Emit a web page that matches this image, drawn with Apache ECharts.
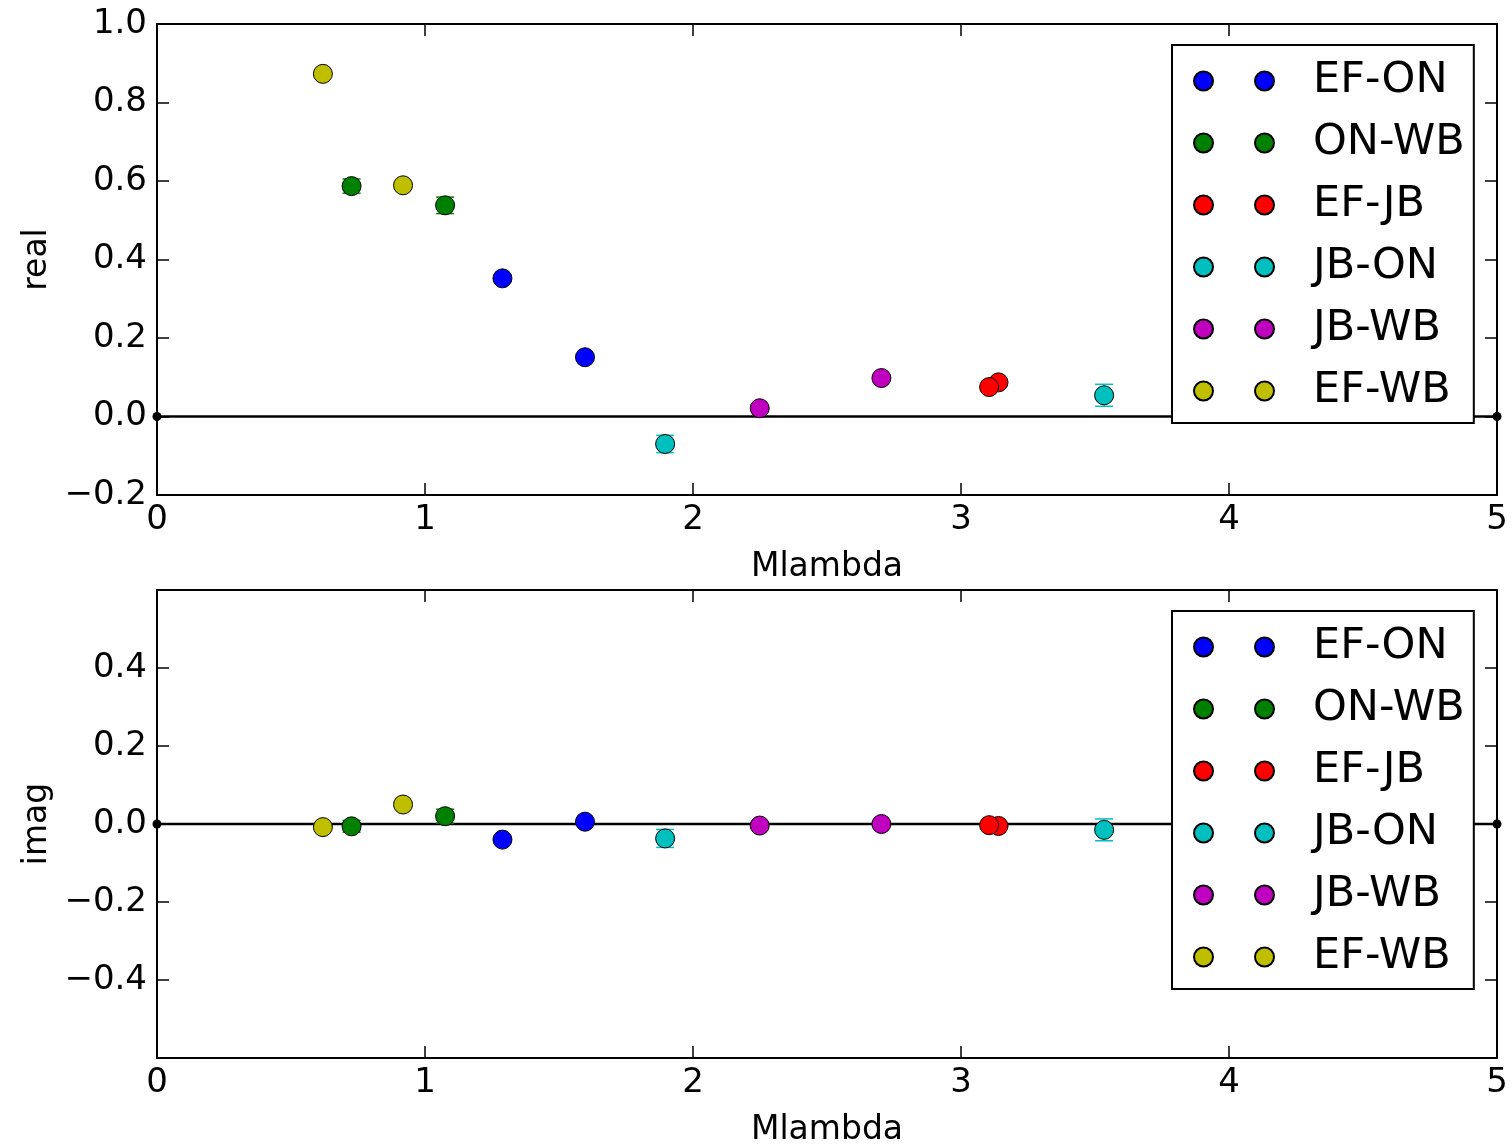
<!DOCTYPE html>
<html>
<head>
<meta charset="utf-8">
<script src="https://cdn.jsdelivr.net/npm/echarts@6/dist/echarts.min.js"></script>
<style>
  html, body { margin: 0; padding: 0; background: #fff; }
  #chart { width: 1512px; height: 1148px; }
</style>
</head>
<body>
<div id="chart"></div>
<script>
// baselines, one colour each (matplotlib classic b g r c m y)
var names = ["EF-ON", "ON-WB", "EF-JB", "JB-ON", "JB-WB", "EF-WB"];
var colors = ["#0000ff", "#008000", "#ff0000", "#00bfbf", "#bf00bf", "#bfbf00"];

// Mlambda of the two points of each baseline
var mlambda = [
  [1.289, 1.597],
  [0.726, 1.075],
  [3.140, 3.105],
  [1.896, 3.534],
  [2.249, 2.703],
  [0.619, 0.918]
];

var realVals = [
  [0.352, 0.151],
  [0.587, 0.538],
  [0.087, 0.075],
  [-0.070, 0.054],
  [0.021, 0.098],
  [0.873, 0.589]
];
var realErr = [
  [0.004, 0.004],
  [0.018, 0.021],
  [0.004, 0.004],
  [0.022, 0.028],
  [0.004, 0.004],
  [0.004, 0.004]
];

var imagVals = [
  [-0.040, 0.006],
  [-0.006, 0.020],
  [-0.005, -0.003],
  [-0.037, -0.015],
  [-0.004, 0.000],
  [-0.008, 0.050]
];
var imagErr = [
  [0.004, 0.004],
  [0.015, 0.018],
  [0.004, 0.004],
  [0.023, 0.028],
  [0.004, 0.004],
  [0.004, 0.004]
];

var xTicks = [0, 1, 2, 3, 4, 5];

var FONT = "DejaVu Sans";
var twoDots = "path://M0,9.5A9.5,9.5,0,1,0,19,9.5A9.5,9.5,0,1,0,0,9.5ZM61,9.5A9.5,9.5,0,1,0,80,9.5A9.5,9.5,0,1,0,61,9.5Z";

function fmtY(v) {
  var s = (Math.round(v * 10) / 10).toFixed(1);
  if (s === "-0.0") s = "0.0";
  return s.replace("-", "\u2212");
}

function xAx(grid, pos, withName) {
  return {
    type: "value", gridIndex: grid, position: pos,
    min: 0, max: 5, interval: 1,
    name: withName ? "Mlambda" : "",
    nameLocation: "middle", nameGap: 56,
    nameTextStyle: { fontFamily: FONT, fontSize: 33, color: "#000" },
    axisLine: { show: true, onZero: false, lineStyle: { color: "#000", width: 2 } },
    axisTick: { show: true, inside: true, length: 12, lineStyle: { color: "#000", width: 1.5 } },
    axisLabel: {
      show: withName, margin: 8, fontFamily: FONT, fontSize: 34, color: "#000",
      showMinLabel: true, showMaxLabel: true,
      formatter: function (v) { return xTicks.indexOf(Math.round(v)) >= 0 ? String(Math.round(v)) : ""; }
    },
    splitLine: { show: false }
  };
}

function yAx(grid, pos, min, max, name, hideEnds) {
  return {
    type: "value", gridIndex: grid, position: pos,
    min: min, max: max, interval: 0.2,
    name: name, nameLocation: "middle", nameGap: 100, nameRotate: 90,
    nameTextStyle: { fontFamily: FONT, fontSize: 33, color: "#000" },
    axisLine: { show: true, onZero: false, lineStyle: { color: "#000", width: 2 } },
    axisTick: { show: true, inside: true, length: 12, lineStyle: { color: "#000", width: 1.5 } },
    axisLabel: {
      show: name !== "", margin: 10, fontFamily: FONT, fontSize: 34, color: "#000",
      showMinLabel: !hideEnds, showMaxLabel: !hideEnds,
      formatter: fmtY
    },
    splitLine: { show: false }
  };
}

function legendAt(top) {
  return {
    orient: "vertical", left: 1172, top: top,
    padding: [14, 9, 10, 21],
    itemWidth: 80, itemHeight: 19, itemGap: 18,
    icon: twoDots,
    backgroundColor: "#fff", borderColor: "#000", borderWidth: 2, borderRadius: 0,
    textStyle: { fontFamily: FONT, fontSize: 43, color: "#000", lineHeight: 44, padding: [0, 0, 0, 34] },
    selectedMode: false,
    z: 10,
    data: names
  };
}

function errRender(params, api) {
  var x = api.value(0);
  var lo = api.coord([x, api.value(1)]);
  var hi = api.coord([x, api.value(2)]);
  var st = { stroke: api.visual("color"), lineWidth: 1.5 };
  return {
    type: "group",
    children: [
      { type: "line", shape: { x1: lo[0], y1: lo[1], x2: hi[0], y2: hi[1] }, style: st },
      { type: "line", shape: { x1: lo[0] - 9, y1: lo[1], x2: lo[0] + 9, y2: lo[1] }, style: st },
      { type: "line", shape: { x1: hi[0] - 9, y1: hi[1], x2: hi[0] + 9, y2: hi[1] }, style: st }
    ]
  };
}

var series = [];
[[realVals, realErr], [imagVals, imagErr]].forEach(function (set, g) {
  var vals = set[0], errs = set[1];
  // zero line with end markers
  series.push({
    type: "line", xAxisIndex: g * 2, yAxisIndex: g * 2,
    data: [[0, 0], [5, 0]], clip: false, silent: true,
    symbol: "circle", symbolSize: 9,
    itemStyle: { color: "#000" },
    lineStyle: { color: "#000", width: 2.5 }, z: 1
  });
  names.forEach(function (n, i) {
    var e = [], d = [];
    for (var k = 0; k < mlambda[i].length; k++) {
      e.push([mlambda[i][k], vals[i][k] - errs[i][k], vals[i][k] + errs[i][k]]);
      d.push([mlambda[i][k], vals[i][k]]);
    }
    series.push({
      type: "custom", name: n + " err", xAxisIndex: g * 2, yAxisIndex: g * 2,
      data: e, renderItem: errRender, itemStyle: { color: colors[i] }, z: 2, silent: true
    });
    series.push({
      type: "scatter", name: n, xAxisIndex: g * 2, yAxisIndex: g * 2,
      data: d, symbol: "circle", symbolSize: 19,
      itemStyle: { color: colors[i], borderColor: "#000", borderWidth: 1, opacity: 1 },
      z: 3
    });
  });
});

var chart = echarts.init(document.getElementById("chart"), null, { renderer: "canvas" });
chart.setOption({
  animation: false,
  backgroundColor: "#fff",
  grid: [
    { left: 157, right: 15, top: 24, height: 471 },
    { left: 157, right: 15, top: 590, height: 470 }
  ],
  xAxis: [
    xAx(0, "bottom", true), xAx(0, "top", false),
    xAx(1, "bottom", true), xAx(1, "top", false)
  ],
  yAxis: [
    yAx(0, "left", -0.2, 1.0, "real", false), yAx(0, "right", -0.2, 1.0, "", false),
    yAx(1, "left", -0.6, 0.6, "imag", true), yAx(1, "right", -0.6, 0.6, "", true)
  ],
  legend: [legendAt(45), legendAt(611)],
  series: series
});
</script>
</body>
</html>
